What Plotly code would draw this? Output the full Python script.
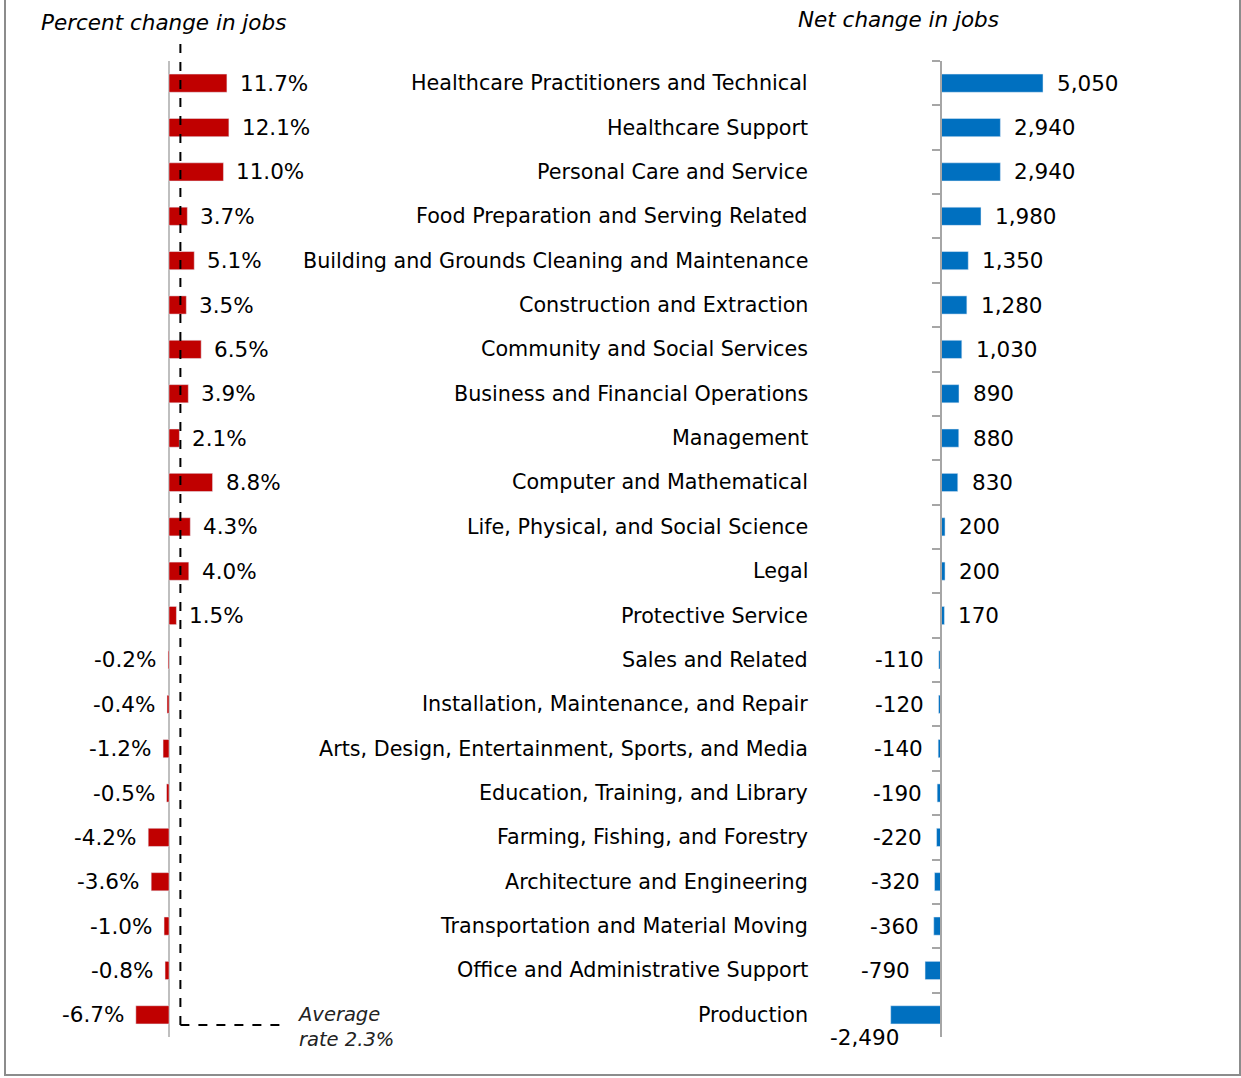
import plotly.graph_objects as go

categories = [
    "Healthcare Practitioners and Technical", "Healthcare Support", "Personal Care and Service",
    "Food Preparation and Serving Related", "Building and Grounds Cleaning and Maintenance",
    "Construction and Extraction", "Community and Social Services", "Business and Financial Operations",
    "Management", "Computer and Mathematical", "Life, Physical, and Social Science", "Legal",
    "Protective Service", "Sales and Related", "Installation, Maintenance, and Repair",
    "Arts, Design, Entertainment, Sports, and Media", "Education, Training, and Library",
    "Farming, Fishing, and Forestry", "Architecture and Engineering",
    "Transportation and Material Moving", "Office and Administrative Support", "Production",
]
pct_change = [11.7, 12.1, 11.0, 3.7, 5.1, 3.5, 6.5, 3.9, 2.1, 8.8, 4.3, 4.0, 1.5,
              -0.2, -0.4, -1.2, -0.5, -4.2, -3.6, -1.0, -0.8, -6.7]
net_change = [5050, 2940, 2940, 1980, 1350, 1280, 1030, 890, 880, 830, 200, 200, 170,
              -110, -120, -140, -190, -220, -320, -360, -790, -2490]
avg_rate = 2.3
title_left = "Percent change in jobs"
title_right = "Net change in jobs"
avg_label = "Average<br>rate 2.3%"

W, H = 1241, 1078
RED, BLUE = "#C00000", "#0070C0"
FONT = "DejaVu Sans"

def px(x):
    return x / W

def py(y):
    return 1 - y / H

# left panel scale
L0, L1, LZ, LS = 60, 300, 169, 4.95
R0, R1, RZ, RS = 820, 1200, 941, 0.0202
xl_range = [-(LZ - L0) / LS, (L1 - LZ) / LS]
xr_range = [-(RZ - R0) / RS, (R1 - RZ) / RS]
ydom = [py(1037), py(61)]
yrange = [len(categories) - 0.5, -0.5]

fig = go.Figure()
fig.add_trace(go.Bar(x=pct_change, y=categories, orientation="h", marker_color=RED,
                     xaxis="x", yaxis="y", showlegend=False))
fig.add_trace(go.Bar(x=net_change, y=categories, orientation="h", marker_color=BLUE,
                     xaxis="x2", yaxis="y2", showlegend=False))

ann = []
for c, v in zip(categories, pct_change):
    ann.append(dict(x=v, y=c, xref="x", yref="y", text=f"{v:.1f}%", showarrow=False,
                    xanchor="left" if v >= 0 else "right", xshift=11 if v >= 0 else -10,
                    font=dict(family=FONT, size=21.5, color="#000")))
for i, (c, v) in enumerate(zip(categories, net_change)):
    d = dict(x=v, y=c, xref="x2", yref="y2", text=f"{v:,}", showarrow=False,
             xanchor="left" if v >= 0 else "right", xshift=12 if v >= 0 else -13,
             font=dict(family=FONT, size=21.5, color="#000"))
    if i == len(categories) - 1:
        d.update(xshift=10, yshift=-23)
    ann.append(d)
for c in categories:
    ann.append(dict(x=px(810), y=c, xref="paper", yref="y2", text=c, showarrow=False,
                    xanchor="right", font=dict(family=FONT, size=20.7, color="#000")))
ann.append(dict(x=px(39), y=py(22), xref="paper", yref="paper", text=f"<i>{title_left}</i>",
                showarrow=False, xanchor="left", yanchor="middle",
                font=dict(family=FONT, size=21.5, color="#000")))
ann.append(dict(x=px(796), y=py(20), xref="paper", yref="paper", text=f"<i>{title_right}</i>",
                showarrow=False, xanchor="left", yanchor="middle",
                font=dict(family=FONT, size=21.5, color="#000")))
ann.append(dict(x=px(295), y=py(1027), xref="paper", yref="paper", text=f"<i>{avg_label}</i>",
                showarrow=False, xanchor="left", yanchor="middle", align="left",
                font=dict(family=FONT, size=19.5, color="#222")))

shapes = [
    dict(type="line", xref="x", yref="paper", x0=avg_rate, x1=avg_rate, y0=py(1025), y1=py(40),
         line=dict(color="#000", width=2, dash="dash")),
    dict(type="line", xref="x", yref="paper", x0=avg_rate, x1=(280 - LZ) / LS, y0=py(1025), y1=py(1025),
         line=dict(color="#000", width=2, dash="dash")),
    dict(type="rect", xref="paper", yref="paper", x0=px(5), x1=px(1240), y0=py(1075), y1=py(-5),
         line=dict(color="#8C8C8C", width=2)),
]

fig.update_layout(
    width=W, height=H, margin=dict(l=0, r=0, t=0, b=0),
    paper_bgcolor="white", plot_bgcolor="rgba(0,0,0,0)",
    bargap=0.59, annotations=ann, shapes=shapes,
    xaxis=dict(domain=[px(L0), px(L1)], range=xl_range, showgrid=False, showticklabels=False,
               zeroline=True, zerolinecolor="#BFBFBF", zerolinewidth=2, anchor="y"),
    yaxis=dict(domain=ydom, range=yrange, type="category", showgrid=False, showticklabels=False,
               showline=False, anchor="x"),
    xaxis2=dict(domain=[px(R0), px(R1)], range=xr_range, showgrid=False, showticklabels=False,
                zeroline=False, anchor="y2"),
    yaxis2=dict(domain=ydom, range=yrange, type="category", showgrid=False, showticklabels=False,
                showline=True, linecolor="#A6A6A6", linewidth=1.5, anchor="free", position=px(RZ),
                ticks="outside", tickson="boundaries", ticklen=8, tickcolor="#A6A6A6", tickwidth=1.5),
)
fig.write_html("out.html")
